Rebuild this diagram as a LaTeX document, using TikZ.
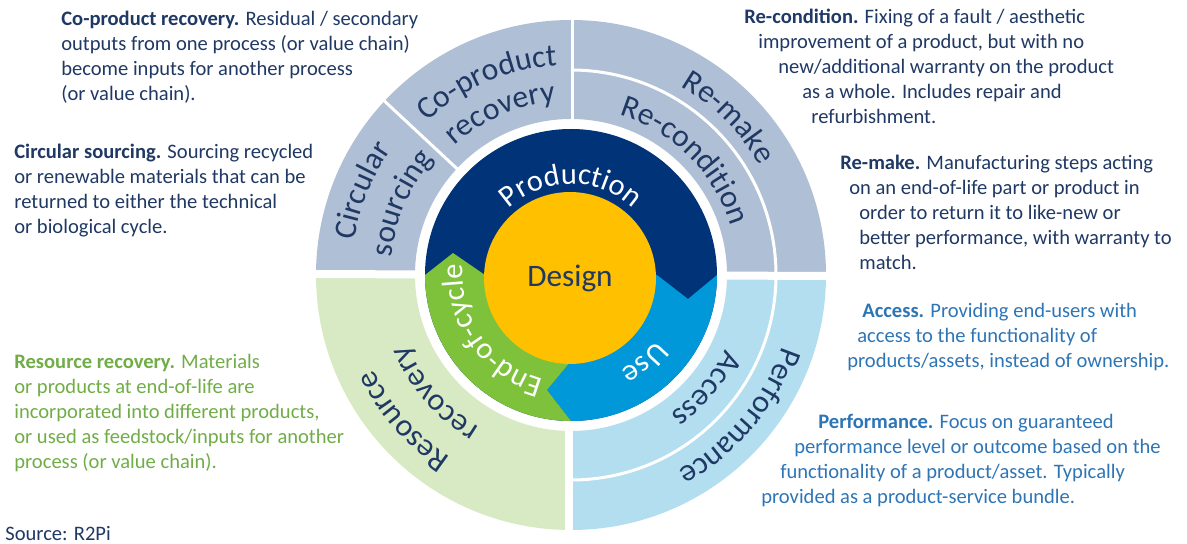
\documentclass[tikz,border=0pt]{standalone}
\usepackage{fontspec}
\setmainfont{Carlito}
\usepackage{xcolor}
\usetikzlibrary{decorations.text}

\definecolor{navy}{RGB}{31,56,100}
\definecolor{prodblue}{RGB}{0,51,120}
\definecolor{useblue}{RGB}{0,152,216}
\definecolor{eocgreen}{RGB}{126,193,58}
\definecolor{designyellow}{RGB}{255,192,0}
\definecolor{ringgray}{RGB}{175,191,213}
\definecolor{ringgreen}{RGB}{216,234,196}
\definecolor{ringblue}{RGB}{178,222,240}
\definecolor{greentext}{RGB}{112,173,71}
\definecolor{bluetext}{RGB}{46,117,182}

\newlength{\px}\setlength{\px}{0.02cm}
\newcommand{\descfont}{\fontsize{11.7}{14.17}\selectfont}
\newcommand{\ringfont}{\fontsize{18}{20}\selectfont\color{navy}}
\newcommand{\corefont}{\fontsize{17.3}{19}\selectfont\color{white}}
\newcommand{\ringlabel}[4]{%
  \path[decorate, decoration={text along path, text align=center,
      text={|#4|#3}}]
    (#1+70:#2) arc[start angle=#1+70, end angle=#1-70, radius=#2];}

\tikzset{
  desc/.style={font=\descfont, text=navy, align=left, inner sep=0pt, anchor=north west},
  gap/.style={white, line width=0.16cm},
  thingap/.style={white, line width=0.06cm}
}

\begin{document}
\begin{tikzpicture}[x=0.02cm, y=0.02cm]
  \useasboundingbox (-571,-269) rectangle (616,275);

  % outer ring
  \fill[ringgray] (0:255) arc[start angle=0, end angle=180, radius=255]
    -- (180:156) arc[start angle=180, end angle=0, radius=156] -- cycle;
  \fill[ringgreen] (180:255) arc[start angle=180, end angle=270, radius=255]
    -- (270:156) arc[start angle=270, end angle=180, radius=156] -- cycle;
  \fill[ringblue] (270:255) arc[start angle=270, end angle=360, radius=255]
    -- (0:156) arc[start angle=360, end angle=270, radius=156] -- cycle;

  \draw[gap] (-262,1) -- (262,-1);
  \draw[gap] (-2,0) -- (-2,-262);
  \draw[thingap] (1.5,0) -- (1.5,262);
  \draw[thingap] (137:150) -- (137:262);
  \draw[thingap] (0:205) arc[start angle=0, end angle=90, radius=205];
  \draw[thingap] (-90:205) arc[start angle=-90, end angle=0, radius=205];

  % inner disk
  \fill[prodblue] (0,0) circle[radius=146];
  \fill[useblue] (0,0) -- (86,0) -- (117,-24) -- (146,0)
    arc[start angle=0, end angle=-90, radius=146] -- (-24,-115) -- (0,-86) -- cycle;
  \fill[eocgreen] (0,0) -- (0,-86) -- (-24,-115) -- (0,-146)
    arc[start angle=-90, end angle=-180, radius=146] -- (-118,22) -- (-86,0) -- cycle;
  \node[circle, fill=designyellow, minimum size=3.44cm, inner sep=0pt,
    font=\fontsize{17.8}{19}\selectfont, text=navy] (design) at (-1,-3) {Design};

  \ringlabel{90}{91}{Production}{\corefont}
  \ringlabel{-50}{107}{Use}{\corefont}
  \ringlabel{215}{108}{End-of-cycle}{\corefont}
  \ringlabel{45}{218}{Re-make}{\ringfont}
  \ringlabel{45}{167}{Re-condition}{\ringfont}
  \ringlabel{113.5}{210}{Co-product}{\ringfont}
  \ringlabel{113.5}{174}{recovery}{\ringfont}
  \ringlabel{158}{219}{Circular}{\ringfont}
  \ringlabel{157}{180}{sourcing}{\ringfont}
  \ringlabel{221}{219}{Resource}{\ringfont}
  \ringlabel{221}{178}{recovery}{\ringfont}
  \ringlabel{-40}{171}{Access}{\ringfont}
  \ringlabel{-40}{223}{Performance}{\ringfont}

  % descriptions
  \node[desc] (cpdesc) at (-510,264) {\textbf{Co-product recovery.} Residual / secondary\\
    outputs from one process (or value chain)\\
    become inputs for another process\\
    (or value chain).};
  \node[desc] (csdesc) at (-557,131) {\textbf{Circular sourcing.} Sourcing recycled\\
    or renewable materials that can be\\
    returned to either the technical\\
    or biological cycle.};
  \node[desc] (rcdesc) at (173,266) {\textbf{Re-condition.} Fixing of a fault / aesthetic\\
    \hspace*{14\px}improvement of a product, but with no\\
    \hspace*{34\px}new/additional warranty on the product\\
    \hspace*{58\px}as a whole. Includes repair and\\
    \hspace*{67\px}refurbishment.};
  \node[desc] (rmdesc) at (269,120) {\textbf{Re-make.} Manufacturing steps acting\\
    \hspace*{9\px}on an end-of-life part or product in\\
    \hspace*{19\px}order to return it to like-new or\\
    \hspace*{19\px}better performance, with warranty to\\
    \hspace*{19\px}match.};
  \node[desc, text=bluetext] (acdesc) at (276,-28) {\hspace*{15\px}\textbf{Access.} Providing end-users with\\
    \hspace*{10\px}access to the functionality of\\
    products/assets, instead of ownership.};
  \node[desc, text=bluetext] (pfdesc) at (190,-139) {\hspace*{57\px}\textbf{Performance.} Focus on guaranteed\\
    \hspace*{33\px}performance level or outcome based on the\\
    \hspace*{19\px}functionality of a product/asset. Typically\\
    provided as a product-service bundle.};
  \node[desc, text=greentext] (rrdesc) at (-557,-79) {\textbf{Resource recovery.} Materials\\
    or products at end-of-life are\\
    incorporated into different products,\\
    or used as feedstock/inputs for another\\
    process (or value chain).};
  \node[desc] (source) at (-566,-251) {Source: R2Pi};
\end{tikzpicture}
\end{document}
